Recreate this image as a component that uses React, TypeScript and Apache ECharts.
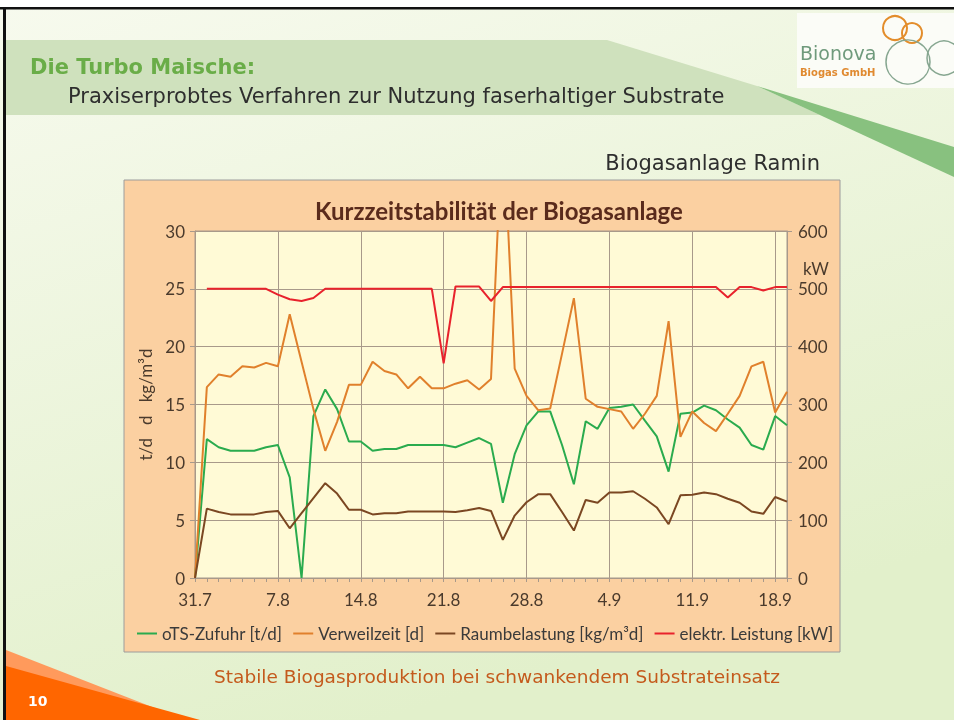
import React, { useEffect, useRef } from "react";
import * as echarts from "echarts";

const days = [
  "31.7", "1.8", "2.8", "3.8", "4.8", "5.8", "6.8", "7.8", "8.8", "9.8",
  "10.8", "11.8", "12.8", "13.8", "14.8", "15.8", "16.8", "17.8", "18.8", "19.8",
  "20.8", "21.8", "22.8", "23.8", "24.8", "25.8", "26.8", "27.8", "28.8", "29.8",
  "30.8", "31.8", "1.9", "2.9", "3.9", "4.9", "5.9", "6.9", "7.9", "8.9",
  "9.9", "10.9", "11.9", "12.9", "13.9", "14.9", "15.9", "16.9", "17.9", "18.9",
  "19.9",
];

const otsZufuhr = [
  0, 12.0, 11.3, 11.0, 11.0, 11.0, 11.3, 11.5, 8.7, 0,
  14.0, 16.3, 14.6, 11.8, 11.8, 11.0, 11.15, 11.15, 11.5, 11.5,
  11.5, 11.5, 11.3, 11.7, 12.1, 11.6, 6.5, 10.7, 13.2, 14.4,
  14.4, 11.5, 8.1, 13.55, 12.9, 14.7, 14.8, 15.0, 13.6, 12.25,
  9.2, 14.2, 14.3, 14.9, 14.5, 13.7, 13.0, 11.5, 11.1, 14.0,
  13.2,
];

const verweilzeit = [
  0, 16.5, 17.6, 17.4, 18.3, 18.2, 18.6, 18.3, 22.8, 18.7,
  14.6, 11.0, 13.5, 16.7, 16.7, 18.7, 17.9, 17.6, 16.4, 17.4,
  16.4, 16.4, 16.8, 17.1, 16.3, 17.2, 40, 18.1, 15.75, 14.5,
  14.65, 19.4, 24.2, 15.5, 14.8, 14.6, 14.4, 12.9, 14.2, 15.75,
  22.2, 12.2, 14.4, 13.4, 12.7, 14.2, 15.75, 18.3, 18.7, 14.3,
  16.1,
];

const raumbelastung = [
  0, 6.0, 5.7, 5.5, 5.5, 5.5, 5.7, 5.8, 4.3, 5.6,
  6.9, 8.2, 7.3, 5.9, 5.9, 5.5, 5.6, 5.6, 5.75, 5.75,
  5.75, 5.75, 5.7, 5.85, 6.05, 5.8, 3.3, 5.4, 6.55, 7.25,
  7.25, 5.7, 4.1, 6.75, 6.5, 7.4, 7.4, 7.5, 6.85, 6.1,
  4.65, 7.15, 7.2, 7.4, 7.25, 6.85, 6.5, 5.75, 5.55, 7.0,
  6.6,
];

const leistung: (number | string)[] = [
  "-", 500, 500, 500, 500, 500, 500, 490, 482, 479,
  484, 500, 500, 500, 500, 500, 500, 500, 500, 500,
  500, 371, 504, 504, 504, 479, 503, 503, 503, 503,
  503, 503, 503, 503, 503, 503, 503, 503, 503, 503,
  503, 503, 503, 503, 503, 485, 503, 503, 497, 503,
  503,
];

const seriesNames = [
  "oTS-Zufuhr [t/d]",
  "Verweilzeit [d]",
  "Raumbelastung [kg/m³d]",
  "elektr. Leistung [kW]",
];
const seriesColors = ["#2aab4e", "#e0802c", "#7b4722", "#e8222c"];

const leftTicks = { min: 0, max: 30, interval: 5 };
const rightTicks = { min: 0, max: 600, interval: 100 };

const SLIDE_FONT = "DejaVu Sans";
const CHART_FONT = "Lato";

export default function App() {
  const ref = useRef<HTMLDivElement>(null);

  useEffect(() => {
    if (!ref.current) return;
    const chart = echarts.init(ref.current, undefined, { renderer: "svg" });
    const gridColor = "#a8998a";
    const labelColor = "#4a3a2c";

    const graphics: any[] = [
      {
        type: "rect",
        z: -10,
        shape: { x: 0, y: 0, width: 954, height: 720 },
        style: {
          fill: new echarts.graphic.LinearGradient(0, 0, 0.4, 1, [
            { offset: 0, color: "#f7faee" },
            { offset: 1, color: "#e2f0cb" },
          ]),
        },
      },
      { type: "rect", z: -9, shape: { x: 0, y: 0, width: 954, height: 7 }, style: { fill: "#ffffff" } },
      { type: "rect", z: -9, shape: { x: 0, y: 7, width: 954, height: 2.5 }, style: { fill: "#111111" } },
      { type: "rect", z: -9, shape: { x: 3, y: 7, width: 3, height: 713 }, style: { fill: "#111111" } },
      {
        type: "polygon",
        z: -9,
        shape: { points: [[6, 40], [607, 40], [757, 86], [820, 115], [6, 115]] },
        style: { fill: "#cfe1bd" },
      },
      {
        type: "polygon",
        z: -9,
        shape: { points: [[757, 86], [954, 147], [954, 177]] },
        style: { fill: "#88c17f" },
      },
      { type: "rect", z: -9, shape: { x: 797, y: 13, width: 157, height: 75 }, style: { fill: "#fbfcf7" } },
      { type: "circle", z: -8, shape: { cx: 895, cy: 28, r: 12 }, style: { fill: "none", stroke: "#e38d2b", lineWidth: 2 } },
      { type: "circle", z: -8, shape: { cx: 912, cy: 33, r: 10 }, style: { fill: "none", stroke: "#e38d2b", lineWidth: 2 } },
      { type: "circle", z: -8, shape: { cx: 908, cy: 62, r: 22 }, style: { fill: "none", stroke: "#86a690", lineWidth: 1.5 } },
      { type: "circle", z: -8, shape: { cx: 944, cy: 58, r: 17 }, style: { fill: "none", stroke: "#86a690", lineWidth: 1.5 } },
      {
        type: "text",
        x: 800,
        y: 53,
        style: { text: "Bionova", fill: "#6f9a7c", font: `19px ${SLIDE_FONT}`, textAlign: "left", textVerticalAlign: "middle" },
      },
      {
        type: "text",
        x: 800,
        y: 72,
        style: { text: "Biogas GmbH", fill: "#e08a30", font: `bold 10px ${SLIDE_FONT}`, textAlign: "left", textVerticalAlign: "middle" },
      },
      {
        type: "text",
        x: 30,
        y: 67,
        style: { text: "Die Turbo Maische:", fill: "#6aad48", font: `bold 21px ${SLIDE_FONT}`, textAlign: "left", textVerticalAlign: "middle" },
      },
      {
        type: "text",
        x: 68,
        y: 96,
        style: {
          text: "Praxiserprobtes Verfahren zur Nutzung faserhaltiger Substrate",
          fill: "#2e2e2e",
          font: `21px ${SLIDE_FONT}`,
          textAlign: "left",
          textVerticalAlign: "middle",
        },
      },
      {
        type: "text",
        x: 820,
        y: 163,
        style: { text: "Biogasanlage Ramin", fill: "#2e2e2e", font: `21px ${SLIDE_FONT}`, textAlign: "right", textVerticalAlign: "middle" },
      },
      {
        type: "rect",
        z: -7,
        shape: { x: 124, y: 180, width: 716, height: 472 },
        style: { fill: "#fbd0a1", stroke: "#9c9c9c", lineWidth: 1 },
      },
      {
        type: "text",
        x: 499,
        y: 210,
        style: {
          text: "Kurzzeitstabilität der Biogasanlage",
          fill: "#5a2b1c",
          font: `bold 24px ${CHART_FONT}`,
          textAlign: "center",
          textVerticalAlign: "middle",
        },
      },
      {
        type: "text",
        x: 803,
        y: 268,
        style: { text: "kW", fill: labelColor, font: `17px ${CHART_FONT}`, textAlign: "left", textVerticalAlign: "middle" },
      },
      {
        type: "text",
        x: 497,
        y: 676,
        style: {
          text: "Stabile Biogasproduktion bei schwankendem Substrateinsatz",
          fill: "#c45a1c",
          font: `18.5px ${SLIDE_FONT}`,
          textAlign: "center",
          textVerticalAlign: "middle",
        },
      },
      {
        type: "polygon",
        z: -6,
        shape: { points: [[6, 650], [165, 712], [6, 668]] },
        style: { fill: "#ff9a5c" },
      },
      {
        type: "polygon",
        z: -6,
        shape: { points: [[6, 666], [200, 720], [6, 720]] },
        style: { fill: "#ff6600" },
      },
      {
        type: "text",
        x: 28,
        y: 701,
        style: { text: "10", fill: "#ffffff", font: `bold 14px ${SLIDE_FONT}`, textAlign: "left", textVerticalAlign: "middle" },
      },
    ];

    const option: any = {
      animation: false,
      textStyle: { fontFamily: CHART_FONT },
      graphic: { elements: graphics },
      grid: {
        left: 195,
        right: 167,
        top: 231,
        bottom: 142,
        show: true,
        backgroundColor: "#fffad6",
        borderColor: gridColor,
        borderWidth: 1,
      },
      legend: {
        left: 137,
        top: 625,
        padding: 0,
        icon: "rect",
        itemWidth: 20,
        itemHeight: 2,
        itemGap: 11,
        textStyle: { fontSize: 17, color: "#3a3a3a", fontFamily: CHART_FONT },
        data: seriesNames,
      },
      xAxis: {
        type: "category",
        data: days,
        boundaryGap: false,
        axisLine: { show: true, lineStyle: { color: gridColor } },
        axisTick: { show: true, interval: 0, length: 4, lineStyle: { color: gridColor } },
        axisLabel: { interval: 6, margin: 13, fontSize: 17, color: labelColor },
        splitLine: { show: true, interval: 6, lineStyle: { color: gridColor } },
      },
      yAxis: [
        {
          type: "value",
          min: leftTicks.min,
          max: leftTicks.max,
          interval: leftTicks.interval,
          position: "left",
          axisLine: { show: true, lineStyle: { color: gridColor } },
          axisTick: { show: true, length: 5, lineStyle: { color: gridColor } },
          axisLabel: { fontSize: 17, color: labelColor, margin: 10 },
          splitLine: { show: true, lineStyle: { color: gridColor } },
          name: "t/d   d   kg/m³d",
          nameLocation: "middle",
          nameGap: 40,
          nameRotate: 90,
          nameTextStyle: { fontSize: 17, color: labelColor },
        },
        {
          type: "value",
          min: rightTicks.min,
          max: rightTicks.max,
          interval: rightTicks.interval,
          position: "right",
          axisLine: { show: true, lineStyle: { color: gridColor } },
          axisTick: { show: true, length: 5, lineStyle: { color: gridColor } },
          axisLabel: { fontSize: 17, color: labelColor, margin: 11 },
          splitLine: { show: false },
        },
      ],
      series: [
        { name: seriesNames[0], type: "line", data: otsZufuhr, yAxisIndex: 0 },
        { name: seriesNames[1], type: "line", data: verweilzeit, yAxisIndex: 0 },
        { name: seriesNames[2], type: "line", data: raumbelastung, yAxisIndex: 0 },
        { name: seriesNames[3], type: "line", data: leistung, yAxisIndex: 1 },
      ].map((s, i) => ({
        ...s,
        symbol: "none",
        showSymbol: false,
        clip: true,
        color: seriesColors[i],
        lineStyle: { color: seriesColors[i], width: 2 },
      })),
    };

    chart.setOption(option);
    return () => chart.dispose();
  }, []);

  return (
    <div
      ref={ref}
      style={{ position: "fixed", left: 0, top: 0, width: 954, height: 720 }}
    />
  );
}
